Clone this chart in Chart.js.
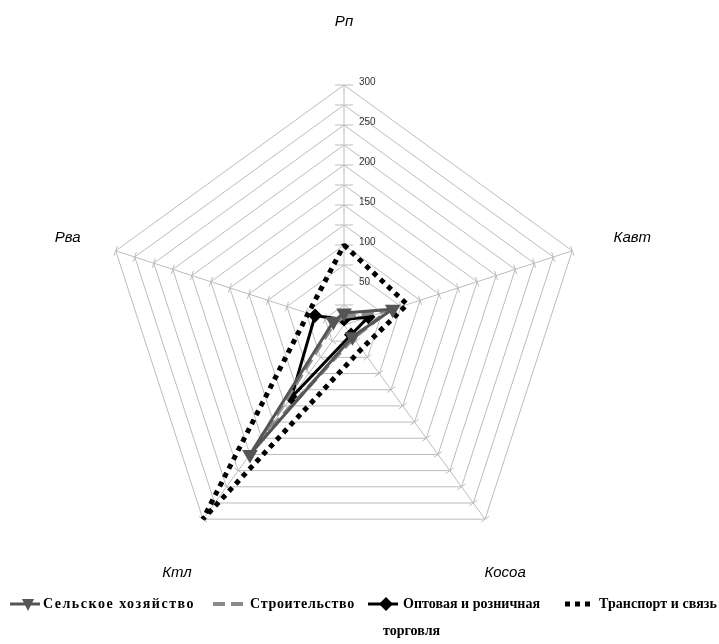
<!DOCTYPE html>
<html lang="ru">
<head>
<meta charset="UTF-8">
<title>Radar</title>
<script src="https://cdn.jsdelivr.net/npm/chart.js"></script>
<style>
    body { margin: 0; background: #fff; }
    canvas { display: block; }
</style>
</head>
<body>
<canvas id="grafico" width="719" height="644"></canvas>

<script>
// eixos do radar e valores
const eixos = ['Рп', 'Кавт', 'Косоа', 'Ктл', 'Рва'];
const selskoe = [15, 64, 18, 200, 14];
const stroitelstvo = [10, 58, 20, 175, 12];
const torgovlya = [7, 32, 15, 112, 38];
const transport = [100, 83, 37, 300, 47];
const nomes = ['Сельское хозяйство', 'Строительство', 'Оптовая и розничная торговля', 'Транспорт и связь'];
const rotulosEscala = [50, 100, 150, 200, 250, 300];

// deslocamento dos nomes dos eixos a partir do vértice externo
const desloc = [[0, -63], [60, -13], [20, 54], [-26, 54], [-48, -13]];

const cinza = '#bcbcbc';

// marcas, números da escala e nomes dos eixos
const escalaExtra = {
    id: 'escalaExtra',
    beforeDatasetsDraw(chart) {
        const ctx = chart.ctx;
        const r = chart.scales.r;
        ctx.save();
        ctx.strokeStyle = cinza;
        ctx.lineWidth = 1;
        ctx.beginPath();
        for (let i = 0; i < eixos.length; i++) {
            const ang = r.getIndexAngle(i) - Math.PI / 2;
            const px = -Math.sin(ang), py = Math.cos(ang);
            const len = i === 0 ? 9 : 5;
            r.ticks.forEach(t => {
                if (t.value <= 0) return;
                const p = r.getPointPositionForValue(i, t.value);
                ctx.moveTo(p.x - px * len, p.y - py * len);
                ctx.lineTo(p.x + px * len, p.y + py * len);
            });
        }
        ctx.stroke();

        ctx.fillStyle = '#333';
        ctx.font = '10px "Liberation Sans", Arial';
        ctx.textAlign = 'left';
        ctx.textBaseline = 'middle';
        rotulosEscala.forEach(v => {
            const p = r.getPointPositionForValue(0, v);
            ctx.fillText(String(v), p.x + 15, p.y - 3);
        });

        ctx.fillStyle = '#000';
        ctx.font = 'italic 15px "Liberation Sans", Arial';
        ctx.textAlign = 'center';
        eixos.forEach((nome, i) => {
            const p = r.getPointPositionForValue(i, r.max);
            ctx.fillText(nome, p.x + desloc[i][0], p.y + desloc[i][1]);
        });
        ctx.restore();
    }
};

// legenda desenhada no canvas
const legenda = {
    id: 'legenda',
    afterDraw(chart) {
        const ctx = chart.ctx;
        const y = 604;
        const itens = [
            { x: 10, w: 30, tx: 43, alvo: 152 },
            { x: 213, w: 32, tx: 250, alvo: 105 },
            { x: 368, w: 30, tx: 403, alvo: 137 },
            { x: 565, w: 30, tx: 599, alvo: 118 }
        ];
        ctx.save();
        itens.forEach((it, i) => {
            const ds = chart.data.datasets[i];
            ctx.strokeStyle = ds.borderColor;
            ctx.lineWidth = ds.borderWidth;
            ctx.setLineDash(ds.borderDash || []);
            ctx.beginPath();
            ctx.moveTo(it.x, y);
            ctx.lineTo(it.x + it.w, y);
            ctx.stroke();
            ctx.setLineDash([]);
            const cx = it.x + it.w / 2 + 3;
            if (ds.pointStyle === 'triangle') {
                ctx.fillStyle = ds.borderColor;
                ctx.beginPath();
                ctx.moveTo(cx - 6, y - 5);
                ctx.lineTo(cx + 6, y - 5);
                ctx.lineTo(cx, y + 7);
                ctx.closePath();
                ctx.fill();
            } else if (ds.pointStyle === 'rectRot') {
                ctx.fillStyle = ds.borderColor;
                ctx.beginPath();
                ctx.moveTo(cx, y - 7);
                ctx.lineTo(cx + 7, y);
                ctx.lineTo(cx, y + 7);
                ctx.lineTo(cx - 7, y);
                ctx.closePath();
                ctx.fill();
            }

            ctx.fillStyle = '#000';
            ctx.font = 'bold 14px "Liberation Serif", "Times New Roman", serif';
            ctx.textAlign = 'left';
            ctx.textBaseline = 'middle';
            let texto = ds.label;
            let resto = '';
            if (i === 2) {
                texto = 'Оптовая и розничная';
                resto = 'торговля';
            }
            const n = texto.length;
            const larg = ctx.measureText(texto).width;
            if ('letterSpacing' in ctx) ctx.letterSpacing = Math.max(-0.6, (it.alvo - larg) / n) + 'px';
            ctx.fillText(texto, it.tx, y);
            if (resto) ctx.fillText(resto, 383, y + 27);
            if ('letterSpacing' in ctx) ctx.letterSpacing = '0px';
        });
        ctx.restore();
    }
};

const dados = {
    labels: eixos,
    datasets: [
        { label: nomes[0], data: selskoe, borderColor: '#555555', backgroundColor: '#555555',
          borderWidth: 3, pointStyle: 'triangle', pointRotation: 180, pointRadius: 6,
          pointBackgroundColor: '#555555', pointBorderColor: '#555555', fill: false },
        { label: nomes[1], data: stroitelstvo, borderColor: '#8a8a8a', backgroundColor: '#8a8a8a',
          borderWidth: 4, borderDash: [12, 6], borderJoinStyle: 'bevel', pointRadius: 0, fill: false },
        { label: nomes[2], data: torgovlya, borderColor: '#000000', backgroundColor: '#000000',
          borderWidth: 3, pointStyle: 'rectRot', pointRadius: 5,
          pointBackgroundColor: '#000', pointBorderColor: '#000', fill: false },
        { label: nomes[3], data: transport, borderColor: '#000000', backgroundColor: '#000000',
          borderWidth: 5, borderDash: [5, 5], borderJoinStyle: 'bevel', pointRadius: 0, fill: false }
    ]
};

const config = {
    type: 'radar',
    data: dados,
    options: {
        responsive: false,
        animation: false,
        layout: { padding: { left: 104, right: 135, top: 85, bottom: 79 } },
        elements: { line: { tension: 0, borderCapStyle: 'butt', borderJoinStyle: 'miter' } },
        plugins: {
            legend: { display: false },
            tooltip: { enabled: false }
        },
        scales: {
            r: {
                min: 0,
                max: 300,
                ticks: { stepSize: 25, display: false },
                grid: { color: cinza, lineWidth: 1 },
                angleLines: { color: cinza, lineWidth: 1 },
                pointLabels: { display: false }
            }
        }
    },
    plugins: [escalaExtra, legenda]
};

const grafico = new Chart(document.getElementById('grafico'), config);
</script>
</body>
</html>
